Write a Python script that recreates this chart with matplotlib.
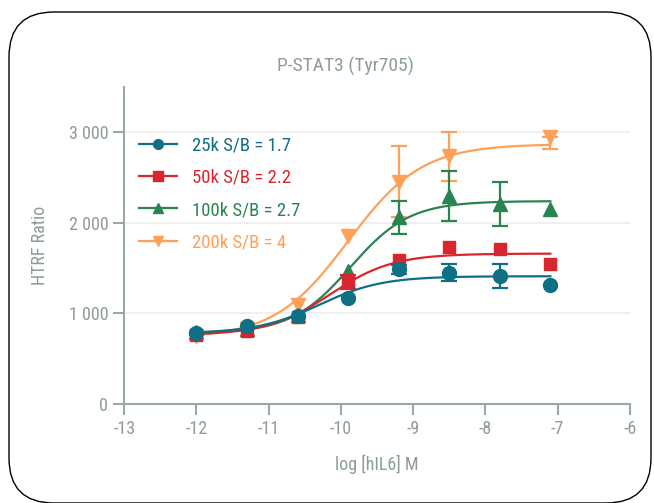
import numpy as np
import matplotlib.pyplot as plt
from matplotlib import font_manager
from matplotlib.patches import FancyBboxPatch
from matplotlib.lines import Line2D
from matplotlib.ticker import FuncFormatter

# pick a narrow font if one is present
names = {f.name for f in font_manager.fontManager.ttflist}
family = 'Roboto'
for cand in ['Liberation Sans Narrow', 'Roboto Condensed', 'DejaVu Sans Condensed']:
    if cand in names:
        family = cand
        break
plt.rcParams['font.family'] = [family, 'DejaVu Sans']
plt.rcParams['axes.unicode_minus'] = False

# log concentrations (5-fold dilution)
log_conc = [-12.0, -11.3, -10.6, -9.9, -9.2, -8.5, -7.8, -7.1]

labels = ['25k S/B = 1.7', '50k S/B = 2.2', '100k S/B = 2.7', '200k S/B = 4']
colors = ['#0e6f85', '#d9262e', '#2a8451', '#ffa058']
markers = ['o', 's', '^', 'v']

y_25k = [788, 862, 975, 1170, 1485, 1450, 1410, 1315]
y_50k = [760, 805, 960, 1345, 1590, 1735, 1715, 1550]
y_100k = [790, 830, 980, 1470, 2060, 2300, 2205, 2150]
y_200k = [745, 830, 1095, 1850, 2455, 2735, np.nan, 2950]

# error bars (lower, upper)
err_lo_25k = [0, 0, 0, 0, 50, 90, 130, 0]
err_hi_25k = [0, 0, 0, 0, 50, 90, 130, 0]
err_lo_50k = [0, 0, 0, 80, 0, 0, 0, 0]
err_hi_50k = [0, 0, 0, 80, 0, 0, 0, 0]
err_lo_100k = [0, 0, 0, 0, 185, 275, 245, 0]
err_hi_100k = [0, 0, 0, 0, 185, 275, 245, 0]
err_lo_200k = [0, 0, 0, 0, 390, 270, 0, 130]
err_hi_200k = [0, 0, 0, 0, 390, 270, 0, 0]

# 4PL fit parameters: bottom, top, logEC50, hill
fit_25k = (780, 1410, -10.3, 1.0)
fit_50k = (760, 1660, -10.15, 1.0)
fit_100k = (780, 2240, -9.87, 1.06)
fit_200k = (725, 2870, -9.9, 0.85)

series = [(y_25k, err_lo_25k, err_hi_25k, fit_25k),
          (y_50k, err_lo_50k, err_hi_50k, fit_50k),
          (y_100k, err_lo_100k, err_hi_100k, fit_100k),
          (y_200k, err_lo_200k, err_hi_200k, fit_200k)]

gray = '#9aa8aa'
text_gray = '#8e9b9d'

fig = plt.figure(figsize=(6.54, 5.03), dpi=100)
ax = fig.add_axes([0.19, 0.197, 0.773, 0.63])

# rounded frame around the whole picture
frame = FancyBboxPatch((0.09, 0.0), 6.42, 4.91,
                       boxstyle='round,pad=0,rounding_size=0.45',
                       transform=fig.dpi_scale_trans, fill=False,
                       edgecolor='black', linewidth=1.0)
fig.add_artist(frame)

xs = np.linspace(log_conc[0], log_conc[-1], 300)
handles = []
for i, (y, lo, hi, fit) in enumerate(series):
    z = 10 - i
    bottom, top, ec50, hill = fit
    curve = bottom + (top - bottom) / (1 + 10 ** (hill * (ec50 - xs)))
    ax.plot(xs, curve, color=colors[i], lw=1.6, zorder=z)
    x = np.array(log_conc)
    y = np.array(y, dtype=float)
    lo = np.array(lo, dtype=float)
    hi = np.array(hi, dtype=float)
    m = (lo + hi) > 0
    ax.errorbar(x[m], y[m], yerr=[lo[m], hi[m]], fmt='none', ecolor=colors[i],
                elinewidth=1.6, capsize=6, capthick=1.6, zorder=z)
    ax.plot(x, y, linestyle='none', marker=markers[i], color=colors[i],
            markersize=10 if markers[i] != 's' else 9, zorder=z + 0.5)
    handles.append(Line2D([], [], color=colors[i], marker=markers[i],
                          lw=1.6, markersize=7))

leg = ax.legend(handles, labels, loc='upper left', bbox_to_anchor=(0.0, 0.89),
                frameon=False, fontsize=13.5, labelcolor=colors,
                handlelength=2.0, handletextpad=0.8, labelspacing=0.75,
                borderaxespad=0.4)

ax.set_xlim(-13, -6)
ax.set_ylim(0, 3500)
ax.set_xticks(range(-13, -5))
ax.set_yticks([0, 1000, 2000, 3000])
ax.yaxis.set_major_formatter(FuncFormatter(lambda v, p: f'{int(v):,}'.replace(',', ' ')))
ax.grid(axis='y', color='#ececec', lw=1.2)
ax.set_axisbelow(True)

for s in ['top', 'right']:
    ax.spines[s].set_visible(False)
for s in ['left', 'bottom']:
    ax.spines[s].set_color(gray)
    ax.spines[s].set_linewidth(1.5)
ax.tick_params(colors=gray, labelcolor=text_gray, labelsize=13, width=1.5,
               length=8, direction='out')

fig.text(345 / 654, 1 - 66 / 503, 'P-STAT3 (Tyr705)', color=text_gray,
         fontsize=14, ha='center', va='center')
ax.set_xlabel('log [hIL6] M', color=text_gray, fontsize=13, labelpad=12)
ax.set_ylabel('HTRF Ratio', color=text_gray, fontsize=13, labelpad=14)

fig.savefig('out.png', dpi=100)
